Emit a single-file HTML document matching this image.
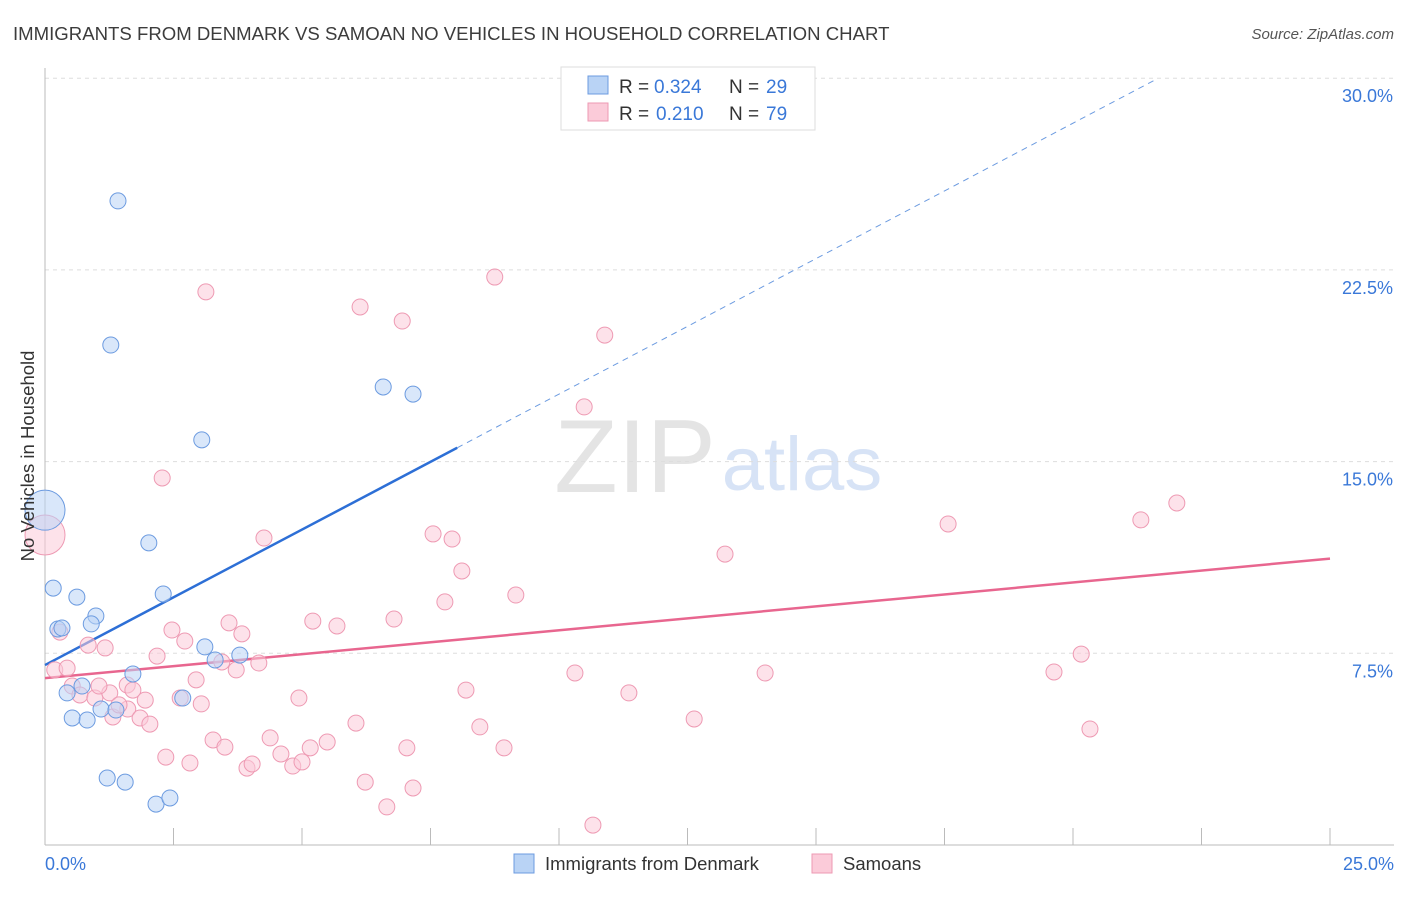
<!DOCTYPE html>
<html><head><meta charset="utf-8"><style>
body{margin:0;background:#fff;font-family:"Liberation Sans",sans-serif;}
svg text{font-family:"Liberation Sans",sans-serif;}
</style></head><body>
<svg id="chart" width="1406" height="892" xmlns="http://www.w3.org/2000/svg">
<text x="13" y="40" font-size="18.6" fill="#3c3c3c">IMMIGRANTS FROM DENMARK VS SAMOAN NO VEHICLES IN HOUSEHOLD CORRELATION CHART</text>
<text x="1394" y="39" font-size="15" fill="#555" text-anchor="end" font-style="italic">Source: ZipAtlas.com</text>
<g opacity="0.55">
<text x="635" y="492" font-size="104" fill="#cfcfcf" font-family="Liberation Serif" text-anchor="middle">ZIP</text>
<text x="802" y="490" font-size="76" fill="#b8cdef" text-anchor="middle">atlas</text>
</g>
<g id="grid"></g><g id="axes"></g><g id="trends"></g><g id="points"></g>
<text transform="translate(34,456) rotate(-90)" font-size="18.5" fill="#333" text-anchor="middle">No Vehicles in Household</text>
<g>
<rect x="561" y="67" width="254" height="63" fill="#fff" stroke="#ddd"/>
<rect x="588" y="76" width="20" height="18" fill="#b9d3f5" stroke="#6c9be0"/>
<rect x="588" y="103" width="20" height="18" fill="#fbcbd9" stroke="#ee9ab3"/>
<text x="619" y="93" font-size="19" fill="#333">R =</text>
<text x="654" y="93" font-size="19" fill="#3a78d8">0.324</text>
<text x="729" y="93" font-size="19" fill="#333">N =</text>
<text x="766" y="93" font-size="19" fill="#3a78d8">29</text>
<text x="619" y="120" font-size="19" fill="#333">R =</text>
<text x="656" y="120" font-size="19" fill="#3a78d8">0.210</text>
<text x="729" y="120" font-size="19" fill="#333">N =</text>
<text x="766" y="120" font-size="19" fill="#3a78d8">79</text>
</g>
<g>
<rect x="514" y="854" width="20" height="19" fill="#b9d3f5" stroke="#6c9be0"/>
<text x="545" y="870" font-size="18.5" fill="#333">Immigrants from Denmark</text>
<rect x="812" y="854" width="20" height="19" fill="#fbcbd9" stroke="#ee9ab3"/>
<text x="843" y="870" font-size="18.5" fill="#333">Samoans</text>
</g>
</svg>
<script>
const xTicks=[0,2.5,5,7.5,10,12.5,15,17.5,20,22.5,25];
const yTicks=[7.5,15,22.5,30];
const yTickLabels=["7.5%","15.0%","22.5%","30.0%"];
const xEndLabels=["0.0%","25.0%"];
const blueX=[0,0.16,0.62,0.99,0.9,0.25,0.33,0.72,0.43,0.53,0.82,1.09,1.38,1.71,1.21,1.56,2.16,2.43,2.02,2.3,3.11,3.31,3.79,2.68,1.42,1.28,3.05,6.58,7.16];
const blueY=[13.1,10.05,9.7,8.96,8.65,8.45,8.49,6.22,5.95,4.97,4.89,5.32,5.28,6.69,2.62,2.46,1.6,1.84,11.82,9.82,7.75,7.24,7.43,5.75,25.2,19.56,15.85,17.92,17.64];
const pinkX=[0,.19,.43,.29,.84,1.17,.53,.68,.97,1.26,1.05,1.6,1.32,1.61,1.44,1.85,1.71,1.95,2.04,2.18,2.47,2.72,2.35,2.82,2.94,3.04,2.63,2.28,3.13,3.27,3.5,3.44,3.58,3.83,3.72,4.16,3.93,4.03,4.26,4.38,4.59,4.82,5.0,4.94,5.16,5.21,5.49,5.68,6.05,6.23,6.13,6.65,6.79,6.95,7.04,7.16,7.55,7.92,7.78,8.11,8.19,8.46,8.75,8.93,9.16,10.31,10.49,10.66,10.89,11.36,12.63,13.23,14.01,17.57,19.63,20.16,20.33,21.32,22.02];
const pinkY=[12.13,6.85,6.92,8.33,7.82,7.71,6.22,5.87,5.75,5.95,6.22,6.26,5.01,5.32,5.48,4.97,6.06,5.67,4.73,7.39,8.41,7.98,3.44,3.21,6.46,5.52,5.75,14.36,21.64,4.11,3.83,7.16,8.69,8.26,6.85,7.12,3.01,3.17,12.01,4.19,3.56,3.09,3.25,5.75,3.8,8.76,4.03,8.57,4.77,2.46,21.05,1.49,8.84,20.5,3.8,2.23,12.17,11.97,9.51,10.72,6.06,4.62,22.22,3.8,9.78,6.73,17.14,0.78,19.95,5.95,4.93,11.38,6.73,12.56,6.77,7.47,4.54,12.72,13.38];
const blueTrend=[7.04,1.06];
const pinkTrend=[6.53,0.187];
const NS="http://www.w3.org/2000/svg";
const X=v=>45+v/25*1285, Y=v=>845-v/7.5*191.7;
function mk(tag,attrs,parent){const e=document.createElementNS(NS,tag);for(const k in attrs)e.setAttribute(k,attrs[k]);parent.appendChild(e);return e;}
const grid=document.getElementById('grid'),axes=document.getElementById('axes'),trends=document.getElementById('trends'),pts=document.getElementById('points');
yTicks.forEach((t,i)=>{
 const l=mk('line',{x1:45,x2:1394,y1:Y(t),y2:Y(t),stroke:'#ddd','stroke-dasharray':'4,4'},grid);
 
 
 const tx=mk('text',{x:1393,y:Y(t)+24,'font-size':18,fill:'#3a78d8','text-anchor':'end'},grid);
 tx.textContent=yTickLabels[i];
 
 
});
const ax=mk('line',{x1:45,x2:45,y1:68,y2:845,stroke:'#bbb'},axes);


const bx=mk('line',{x1:45,x2:1394,y1:845,y2:845,stroke:'#bbb'},axes);


xTicks.forEach(t=>{const l=mk('line',{x1:X(t),x2:X(t),y1:828,y2:845,stroke:'#bbb'},axes);
 
 });
[[0,'start',45],[25,'end',1394]].forEach((d,i)=>{const tx=mk('text',{x:d[2],y:870,'font-size':18,fill:'#3a78d8','text-anchor':d[1]},axes);tx.textContent=xEndLabels[i];
 
 });
function draw(xs,ys,fill,stroke,name){xs.forEach((x,i)=>{const big=(x===0);
 const c=mk('circle',{cx:X(x),cy:Y(ys[i]),r:big?20:8,fill:fill,'fill-opacity':0.55,stroke:stroke,'stroke-width':1},pts);
 
 });}
draw(pinkX,pinkY,'#fbcbd9','#ee9ab3','samoan-point');
draw(blueX,blueY,'#b9d3f5','#6c9be0','denmark-point');
const bEnd=8.02, bDash=21.6;
let t=mk('line',{x1:X(0),y1:Y(blueTrend[0]),x2:X(bEnd),y2:Y(blueTrend[0]+blueTrend[1]*bEnd),stroke:'#2d6fd6','stroke-width':2.5},trends);


t=mk('line',{x1:X(bEnd),y1:Y(blueTrend[0]+blueTrend[1]*bEnd),x2:X(bDash),y2:Y(blueTrend[0]+blueTrend[1]*bDash),stroke:'#6c9be0','stroke-width':1,'stroke-dasharray':'6,5'},trends);


t=mk('line',{x1:X(0),y1:Y(pinkTrend[0]),x2:X(25),y2:Y(pinkTrend[0]+pinkTrend[1]*25),stroke:'#e8668f','stroke-width':2.5},trends);


</script>
</body></html>
